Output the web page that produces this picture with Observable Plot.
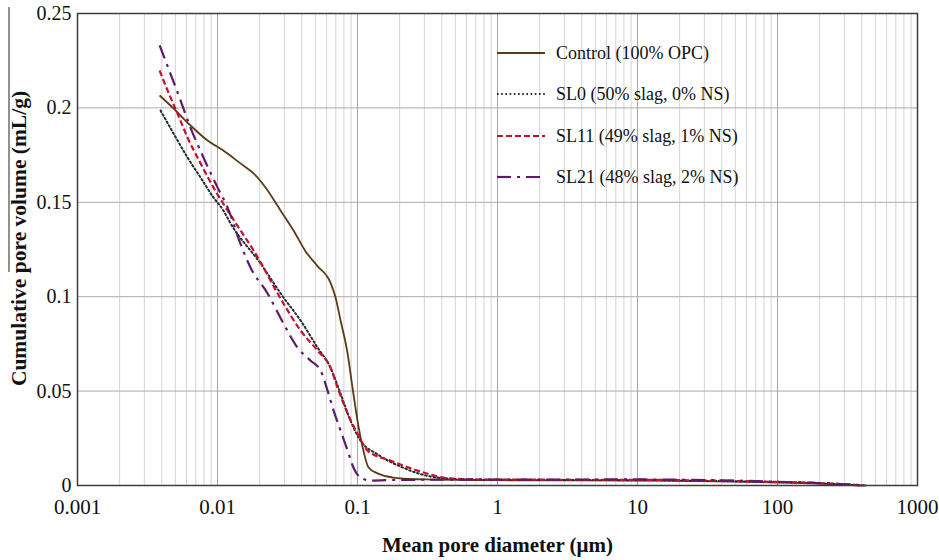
<!DOCTYPE html>
<html><head><meta charset="utf-8">
<script src="https://cdn.jsdelivr.net/npm/d3@7"></script>
<script src="https://cdn.jsdelivr.net/npm/@observablehq/plot@0.6"></script>
<style>
body{margin:0;background:#fff;}
#wrap{position:relative;width:939px;height:560px;}
</style></head><body><div id="wrap"></div>
<script>
// ---- data ----
const seriesNames = ["Control (100% OPC)", "SL0 (50% slag, 0% NS)", "SL11 (49% slag, 1% NS)", "SL21 (48% slag, 2% NS)"];
const seriesColors = ["#5b3b14", "#1f2d2d", "#c8102e", "#5e1b6e"];
const seriesDash = ["none", "1.6,2.6", "6,3", "14,6,3,6"];
const seriesWidth = [1.8, 2, 2.2, 2.2];

const controlD = [0.00386,0.00485,0.00641,0.00849,0.011,0.0146,0.0181,0.0228,0.0282,0.0349,0.0426,0.0518,0.0641,0.0697,0.0757,0.085,0.0921,0.1,0.109,0.12,0.139,0.181,0.3,1,10,50,100,200,400];
const controlV = [0.2066,0.1997,0.1907,0.1827,0.1774,0.1706,0.1653,0.1563,0.1457,0.1351,0.124,0.1162,0.1075,0.0996,0.0874,0.0699,0.0519,0.0344,0.0201,0.0095,0.0064,0.0042,0.0032,0.0028,0.0026,0.0021,0.0016,0.001,0];

const sl0D = [0.00392,0.00485,0.00611,0.00757,0.00935,0.011,0.0124,0.0203,0.0296,0.0392,0.0518,0.0641,0.0757,0.0891,0.105,0.139,0.203,0.349,0.6,1,10,50,100,200,420];
const sl0V = [0.1986,0.1865,0.1737,0.1631,0.1526,0.1457,0.1388,0.1176,0.0996,0.0874,0.0731,0.0625,0.0487,0.0344,0.0238,0.0165,0.01,0.0045,0.0032,0.003,0.0028,0.0022,0.0018,0.0012,0];

const sl11D = [0.00386,0.0044,0.00518,0.00611,0.00757,0.00935,0.0118,0.0146,0.0181,0.0296,0.0392,0.0518,0.0641,0.072,0.085,0.1,0.118,0.172,0.268,0.462,1,10,50,100,200,420];
const sl11V = [0.2198,0.2092,0.197,0.1843,0.1706,0.1579,0.1457,0.1351,0.1245,0.0964,0.0821,0.0715,0.0625,0.0519,0.0381,0.0275,0.0185,0.0132,0.0079,0.0037,0.0031,0.003,0.0024,0.0019,0.0013,0];

const sl21D = [0.00386,0.00461,0.00545,0.00641,0.00794,0.01,0.0118,0.0146,0.0172,0.0228,0.0296,0.0372,0.0461,0.0545,0.0611,0.0675,0.0757,0.085,0.0935,0.105,0.124,0.2,1,10,50,100,200,430];
const sl21V = [0.2331,0.2182,0.2039,0.1896,0.1737,0.1579,0.1473,0.128,0.1155,0.1017,0.0858,0.0731,0.0662,0.0609,0.0503,0.0397,0.0291,0.0185,0.0095,0.0042,0.0026,0.003,0.0031,0.0032,0.0026,0.002,0.0013,0];

const xTicks = [0.001, 0.01, 0.1, 1, 10, 100, 1000];
const yTicks = [0, 0.05, 0.1, 0.15, 0.2, 0.25];
const xLabel = "Mean pore diameter (μm)";
const yLabel = "Cumulative pore volume (mL/g)";

// ---- build ----
const allD = [controlD, sl0D, sl11D, sl21D];
const allV = [controlV, sl0V, sl11V, sl21V];
const series = allD.map((D, i) => D.map((d, j) => ({d, v: allV[i][j], s: seriesNames[i]})));

const minor = [];
for (let k = 0; k < xTicks.length - 1; k++) for (let m = 2; m <= 9; m++) minor.push(m * xTicks[k]);

const serif = "'Liberation Serif','Times New Roman',serif";

const chart = Plot.plot({
  width: 939, height: 560,
  marginLeft: 77, marginRight: 22, marginTop: 13, marginBottom: 75,
  style: {fontFamily: serif, fontSize: "20px", color: "#111", background: "#fff", overflow: "visible"},
  x: {type: "log", domain: [0.001, 1000], ticks: xTicks, tickFormat: d => String(d), tickSize: 0, tickPadding: 14, label: null},
  y: {domain: [0, 0.25], ticks: yTicks, tickFormat: d => String(d), tickSize: 0, tickPadding: 6, label: null},
  marks: [
    Plot.ruleX(minor, {stroke: "#d4d4d4", strokeWidth: 1}),
    Plot.ruleX(xTicks, {stroke: "#a6a6a6", strokeWidth: 1}),
    Plot.ruleY(yTicks, {stroke: "#acacac", strokeWidth: 1}),
    ...series.map((data, i) => Plot.line(data, {
      x: "d", y: "v", curve: "monotone-x",
      stroke: seriesColors[i], strokeWidth: seriesWidth[i],
      strokeDasharray: seriesDash[i] === "none" ? null : seriesDash[i],
      strokeLinecap: i === 1 ? "round" : "butt"
    })),
    Plot.frame({stroke: "#3c3c3c", strokeWidth: 1.5}),
    Plot.text([xLabel], {frameAnchor: "bottom", dy: 60, lineAnchor: "middle", textAnchor: "middle", fontWeight: "bold", fontSize: 21, fill: "#111"}),
    Plot.text([yLabel], {frameAnchor: "left", rotate: -90, dx: -58, dy: -11, textAnchor: "middle", lineAnchor: "middle", fontWeight: "bold", fontSize: 21.5, fill: "#111"})
  ]
});
document.getElementById("wrap").appendChild(chart);

const svg = d3.select(chart);
// x tick labels a touch larger
svg.selectAll('g[aria-label="x-axis tick label"] text').attr("font-size", 21);

// thin rule beside the y label, as in the reference scan
svg.append("line").attr("x1", 9).attr("x2", 9).attr("y1", 7).attr("y2", 272)
  .attr("stroke", "#222").attr("stroke-width", 1);

// ---- in-plot legend ----
const legRows = [53, 94, 136, 177];
const lg = svg.append("g").attr("font-family", serif).attr("font-size", 18).attr("fill", "#111").attr("text-anchor", "start");
seriesNames.forEach((name, i) => {
  lg.append("line").attr("x1", 497).attr("x2", 545).attr("y1", legRows[i]).attr("y2", legRows[i])
    .attr("stroke", seriesColors[i]).attr("stroke-width", seriesWidth[i])
    .attr("stroke-dasharray", seriesDash[i] === "none" ? null : seriesDash[i]);
  lg.append("text").attr("x", 556).attr("y", legRows[i]).attr("dy", "0.35em").attr("text-anchor", "start").text(name);
});
</script>
</body></html>
